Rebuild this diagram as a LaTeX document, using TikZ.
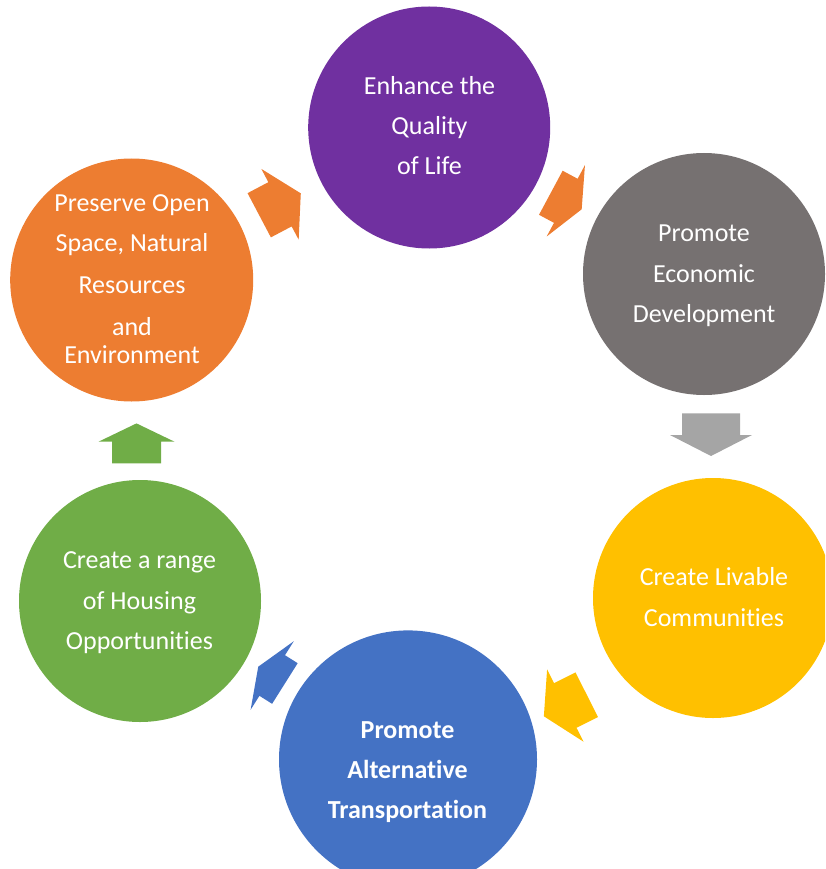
\documentclass[tikz,border=0pt]{standalone}
\usepackage{fontspec}
\setmainfont{Carlito}[Ligatures={NoCommon,NoRare,NoDiscretionary,NoContextual}]
\definecolor{cpurple}{HTML}{7030A0}
\definecolor{cgray}{HTML}{767171}
\definecolor{cgrayarrow}{HTML}{A5A5A5}
\definecolor{cyellow}{HTML}{FFC000}
\definecolor{cblue}{HTML}{4472C4}
\definecolor{cgreen}{HTML}{70AD47}
\definecolor{corange}{HTML}{ED7D31}
\newcommand\nl{\kern0pt }
% #1 colour, #2 head-base centre, #3 angle, #4 shaft length, #5 head length,
% #6 shaft half width, #7 head half width
\newcommand\cyclearrow[7]{%
  \begin{scope}[shift={(#2)},rotate=#3]
    \fill[#1] (-#4,-#6) -- (0,-#6) -- (0,-#7) -- (#5,0) -- (0,#7) -- (0,#6) -- (-#4,#6) -- cycle;
  \end{scope}}
\begin{document}
\begin{tikzpicture}[x=1pt,y=-1pt,
  disc/.style={circle,inner sep=0pt,draw=none},
  txt/.style={anchor=base,text=white,inner sep=0pt,font=\fontsize{26}{40}\selectfont},
  btxt/.style={txt,font=\fontsize{26}{40}\selectfont\bfseries}]
\useasboundingbox (0,0) rectangle (825,869);
\clip (0,0) rectangle (825,869);
% circles
\node[disc,fill=cpurple,minimum size=242pt] (quality) at (429.2,127.5) {};
\node[disc,fill=cgray,minimum size=242pt] (econ) at (704,274) {};
\node[disc,fill=cyellow,minimum size=240pt] (livable) at (713,598) {};
\node[disc,fill=cblue,minimum size=258pt] (transport) at (408,759.4) {};
\node[disc,fill=cgreen,minimum size=242pt] (housing) at (140,601) {};
\node[disc,fill=corange,minimum size=243pt] (preserve) at (131.7,280) {};
% arrows
\cyclearrow{corange}{280,204.3}{27.8}{23.5}{23.5}{25}{40}
\cyclearrow{corange}{565.8,200.8}{-28.2}{17}{18}{25}{40.5}
\cyclearrow{cgrayarrow}{711,435}{-90}{21.7}{21}{29}{41}
\cyclearrow{cyellow}{565.3,705.5}{206.7}{24}{24}{25}{40.5}
\cyclearrow{cblue}{272.2,675.5}{147.8}{15}{16.5}{24}{40.5}
\cyclearrow{cgreen}{136.5,441.7}{90}{21.7}{18.3}{24.5}{38}
% texts
\node[txt] (q1) at (429.5,95) {Enhance the};
\node[txt] (q2) at (429.5,135) {Quality};
\node[txt] (q3) at (429.5,175) {of Life};
\node[txt] (e1) at (704,241) {Promote};
\node[txt] (e2) at (704,282) {Economic};
\node[txt] (e3) at (704,322) {Development};
\node[txt] (l1) at (714,585) {Create Livable};
\node[txt] (l2) at (714,626) {Communit\nl ies};
\node[btxt] (t1) at (407.5,738.3) {Promote};
\node[btxt] (t2) at (407.5,778.3) {Alternat\nl ive};
\node[btxt] (t3) at (407.5,818.3) {Transportat\nl ion};
\node[txt] (h1) at (139.5,568) {Create a range};
\node[txt] (h2) at (139.5,609) {of Housing};
\node[txt] (h3) at (139.5,649) {Opportunit\nl ies};
\node[txt] (p1) at (132,211.7) {Preserve Open};
\node[txt] (p2) at (132,251.7) {Space, Natural};
\node[txt] (p3) at (132,293.3) {Resources};
\node[txt] (p4) at (132,335) {and};
\node[txt] (p5) at (132,363.3) {Environment};
\end{tikzpicture}
\end{document}
